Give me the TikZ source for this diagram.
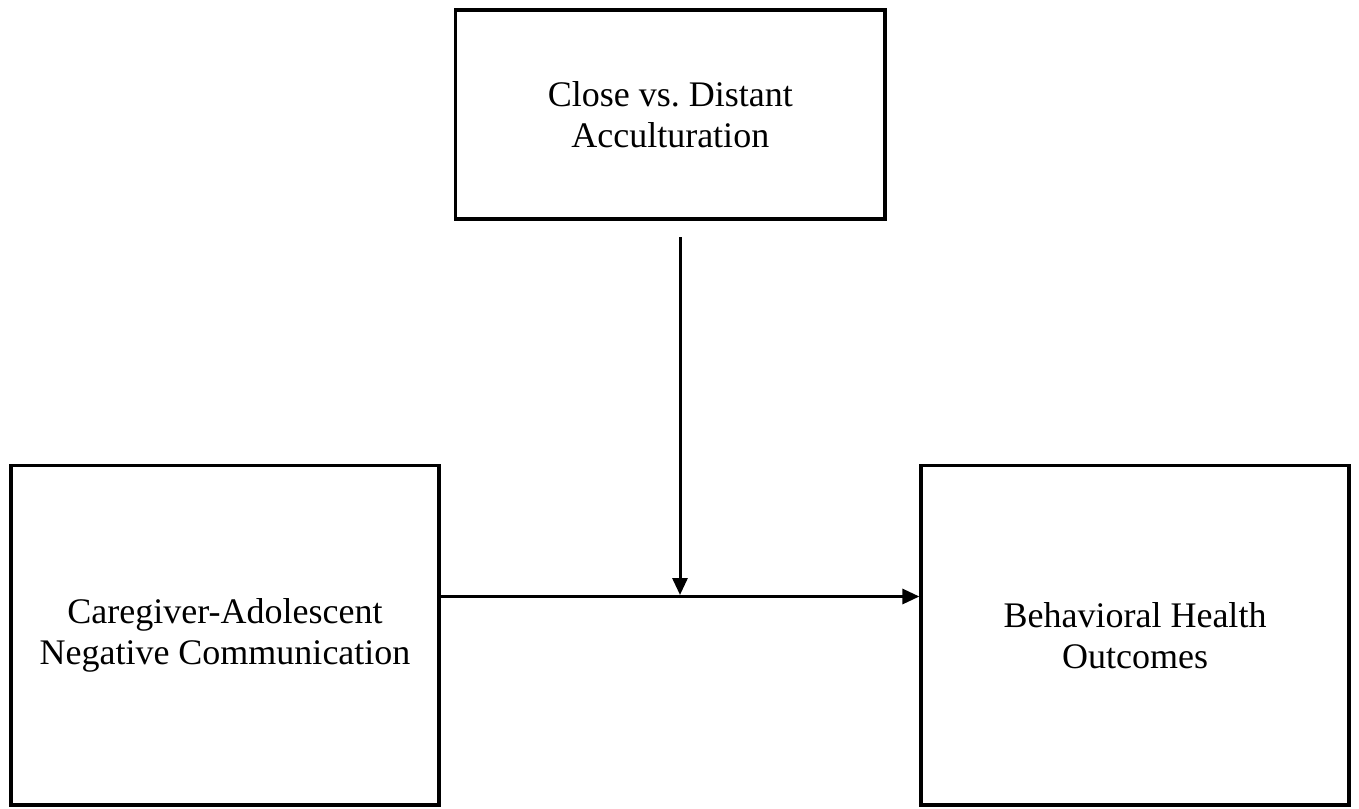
\documentclass[tikz,border=0pt]{standalone}
\usepackage{fontspec}
\setmainfont{Liberation Serif}
\usetikzlibrary{arrows.meta}

\begin{document}
\frenchspacing
\begin{tikzpicture}[x=1pt, y=-1pt,
    box/.style={draw, line width=3.2pt, align=center, inner sep=0pt,
      font=\fontsize{36}{41}\selectfont},
    link/.style={line width=3pt, -{Triangle[length=17pt,width=15pt]}}]
    \useasboundingbox (0,0) rectangle (1359,808);
    \node[box, minimum width=429.5pt, minimum height=209pt] (accult) at (670.25,114.5)
      {Close vs. Distant\\Acculturation};
    \node[box, minimum width=428pt, minimum height=339.5pt] (comm) at (225,635.25)
      {Caregiver-Adolescent\\Negative Communication};
    \node[box, minimum width=428pt, minimum height=339.5pt] (health) at (1135,635.25)
      {Behavioral Health\\Outcomes};
    \coordinate (join) at (680,596.5);
    \coordinate (modsrc) at (680,237);
    \draw[link] (comm.east |- join) -- (health.west |- join);
    \draw[link, shorten >=1.5pt] (modsrc) -- (join);
  \end{tikzpicture}
\end{document}
